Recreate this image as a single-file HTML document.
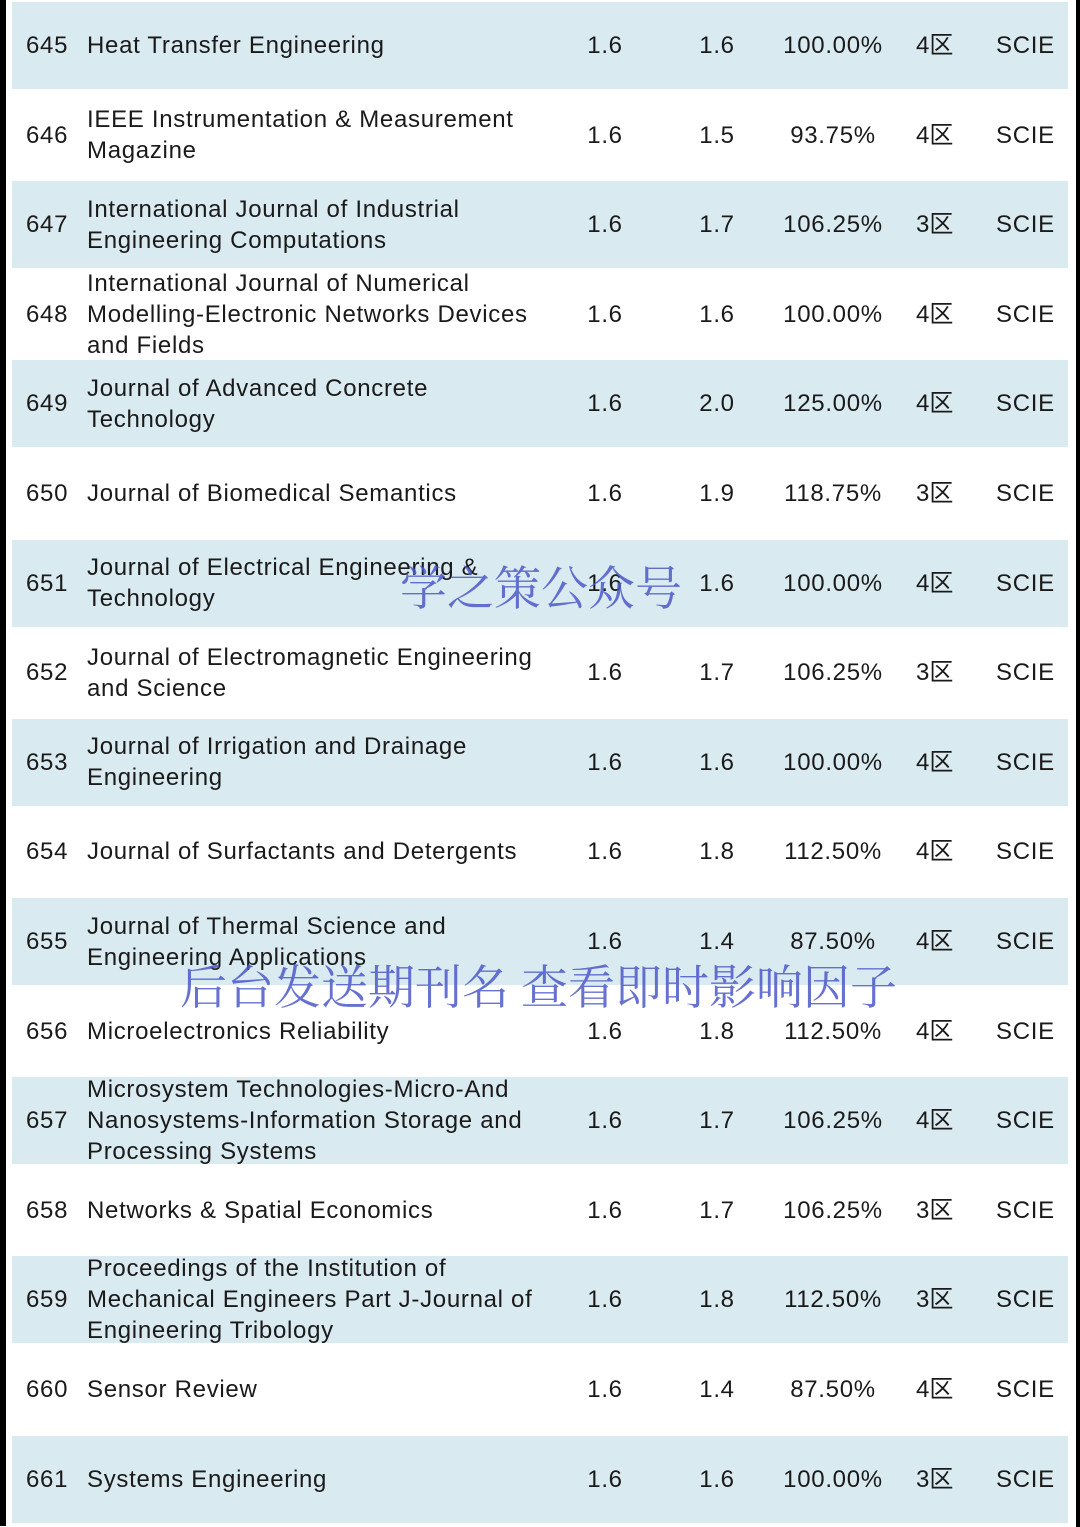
<!DOCTYPE html>
<html><head><meta charset="utf-8"><style>
html,body{margin:0;padding:0;width:1080px;height:1527px;background:#fff;overflow:hidden;position:relative;font-family:"Liberation Sans","Noto Sans CJK SC",sans-serif;color:#1a1a1a}
#lb{position:absolute;left:0;top:0;width:6px;height:1526px;background:#000}
#rb{position:absolute;right:0;top:0;width:4px;height:1527px;background:#000}
.row{position:absolute;left:12px;width:1056px;height:87px}
.row.b{background:#d9eaf1}
.c{position:absolute;top:0;height:87px;display:flex;align-items:center;font-size:24px;line-height:31px;white-space:nowrap;letter-spacing:0.7px}
.num{left:14px}
.name{left:75px;width:452px;white-space:normal}
.v1{left:560px;width:66px;justify-content:center}
.v2{left:672px;width:66px;justify-content:center}
.pct{left:760px;width:122px;justify-content:center}
.zone{left:904px;letter-spacing:0}
.idx{left:984px}
.wm{position:absolute;font-family:"Noto Serif CJK SC","WenQuanYi Zen Hei",serif;color:rgba(75,88,200,0.85);font-size:47px;line-height:47px;white-space:nowrap}
</style></head><body>
<div id="lb"></div>
<div id="rb"></div>
<div id="tbl"></div>
<div class="wm" style="left:400px;top:562px">学之策公众号</div>
<div class="wm" style="left:180px;top:961px">后台发送期刊名 查看即时影响因子</div>
<script>
const nums=[645,646,647,648,649,650,651,652,653,654,655,656,657,658,659,660,661];
const names=["Heat Transfer Engineering","IEEE Instrumentation &amp; Measurement Magazine","International Journal of Industrial Engineering Computations","International Journal of Numerical Modelling-Electronic Networks Devices and Fields","Journal of Advanced Concrete Technology","Journal of Biomedical Semantics","Journal of Electrical Engineering &amp; Technology","Journal of Electromagnetic Engineering and Science","Journal of Irrigation and Drainage Engineering","Journal of Surfactants and Detergents","Journal of Thermal Science and Engineering Applications","Microelectronics Reliability","Microsystem Technologies-Micro-And Nanosystems-Information Storage and Processing Systems","Networks &amp; Spatial Economics","Proceedings of the Institution of Mechanical Engineers Part J-Journal of Engineering Tribology","Sensor Review","Systems Engineering"];
const v1=["1.6","1.6","1.6","1.6","1.6","1.6","1.6","1.6","1.6","1.6","1.6","1.6","1.6","1.6","1.6","1.6","1.6"];
const v2=["1.6","1.5","1.7","1.6","2.0","1.9","1.6","1.7","1.6","1.8","1.4","1.8","1.7","1.7","1.8","1.4","1.6"];
const pcts=["100.00%","93.75%","106.25%","100.00%","125.00%","118.75%","100.00%","106.25%","100.00%","112.50%","87.50%","112.50%","106.25%","106.25%","112.50%","87.50%","100.00%"];
const zones=["4区","4区","3区","4区","4区","3区","4区","3区","4区","4区","4区","4区","4区","3区","3区","4区","3区"];
const idxs=nums.map(()=> "SCIE");
const tbl=document.getElementById('tbl');
const pitch=89.6;
nums.forEach((n,i)=>{
  const r=document.createElement('div');
  r.className='row'+(i%2===0?' b':'');
  r.style.top=(2+i*pitch)+'px';
  
  
  r.innerHTML=`<div class="c num">${n}</div>`+
  `<div class="c name">${names[i]}</div>`+
  `<div class="c v1">${v1[i]}</div>`+
  `<div class="c v2">${v2[i]}</div>`+
  `<div class="c pct">${pcts[i]}</div>`+
  `<div class="c zone">${zones[i]}</div>`+
  `<div class="c idx">${idxs[i]}</div>`;
  tbl.appendChild(r);
});
</script>
</body></html>
